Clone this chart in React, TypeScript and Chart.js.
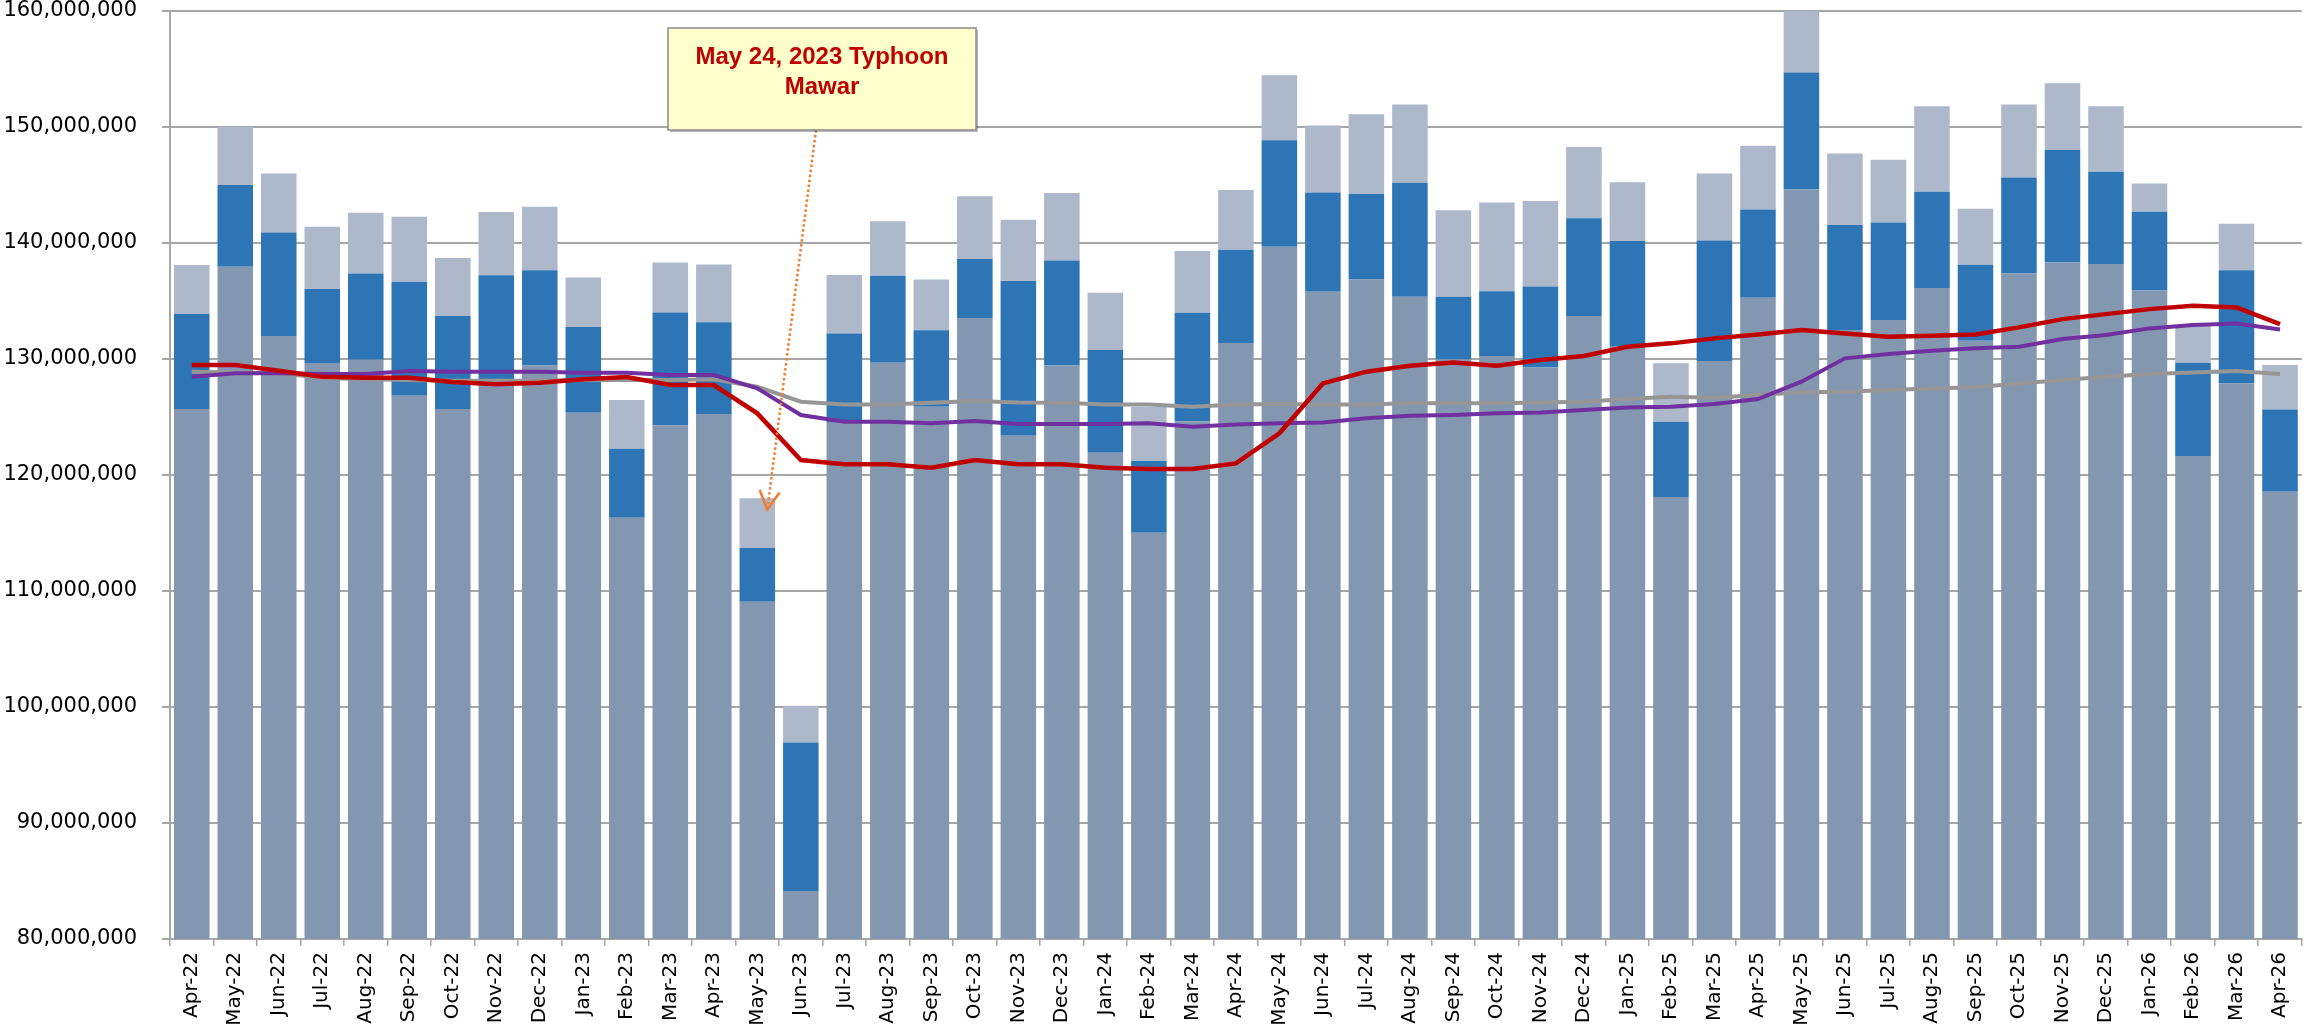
import { useEffect, useRef } from "react";
import { Chart, registerables } from "chart.js";

Chart.register(...registerables);

const categories = [
  "Apr-22", "May-22", "Jun-22", "Jul-22", "Aug-22", "Sep-22", "Oct-22", "Nov-22", "Dec-22",
  "Jan-23", "Feb-23", "Mar-23", "Apr-23", "May-23", "Jun-23", "Jul-23", "Aug-23", "Sep-23",
  "Oct-23", "Nov-23", "Dec-23", "Jan-24", "Feb-24", "Mar-24", "Apr-24", "May-24", "Jun-24",
  "Jul-24", "Aug-24", "Sep-24", "Oct-24", "Nov-24", "Dec-24", "Jan-25", "Feb-25", "Mar-25",
  "Apr-25", "May-25", "Jun-25", "Jul-25", "Aug-25", "Sep-25", "Oct-25", "Nov-25", "Dec-25",
  "Jan-26", "Feb-26", "Mar-26", "Apr-26",
];

// bottom segment (grey-blue)
const baseValues = [
  125.66e6, 137.92e6, 131.95e6, 129.62e6, 129.91e6, 126.8e6, 125.66e6, 127.8e6, 129.42e6,
  125.35e6, 116.3e6, 124.25e6, 125.23e6, 109.06e6, 84.14e6, 124.49e6, 129.65e6, 125.86e6,
  133.5e6, 123.37e6, 129.42e6, 121.9e6, 115.0e6, 124.6e6, 131.35e6, 139.64e6, 135.77e6,
  136.83e6, 135.34e6, 129.94e6, 130.23e6, 129.25e6, 133.67e6, 131.03e6, 118.08e6, 129.8e6,
  135.25e6, 144.58e6, 132.47e6, 133.33e6, 136.08e6, 131.55e6, 137.35e6, 138.29e6, 138.15e6,
  135.88e6, 121.61e6, 127.87e6, 118.54e6,
];

// middle segment (blue)
const midValues = [
  8.19e6, 7.04e6, 8.93e6, 6.38e6, 7.44e6, 9.83e6, 8.01e6, 9.38e6, 8.19e6,
  7.37e6, 5.95e6, 9.74e6, 7.9e6, 4.62e6, 12.79e6, 7.69e6, 7.5e6, 6.58e6,
  5.08e6, 13.32e6, 9.05e6, 8.84e6, 6.18e6, 9.36e6, 8.04e6, 9.19e6, 8.55e6,
  7.35e6, 9.82e6, 5.4e6, 5.57e6, 6.98e6, 8.44e6, 9.1e6, 6.49e6, 10.39e6,
  7.61e6, 10.08e6, 9.04e6, 8.41e6, 8.3e6, 6.54e6, 8.27e6, 9.68e6, 7.96e6,
  6.79e6, 8.05e6, 9.74e6, 7.09e6,
];

// top segment (light grey-blue)
const topValues = [
  4.22e6, 5.02e6, 5.08e6, 5.37e6, 5.22e6, 5.6e6, 5.0e6, 5.45e6, 5.48e6,
  4.28e6, 4.19e6, 4.3e6, 4.99e6, 4.29e6, 3.17e6, 5.02e6, 4.7e6, 4.39e6,
  5.42e6, 5.28e6, 5.8e6, 4.94e6, 4.68e6, 5.31e6, 5.14e6, 5.6e6, 5.77e6,
  6.89e6, 6.74e6, 7.46e6, 7.66e6, 7.35e6, 6.12e6, 5.08e6, 5.03e6, 5.77e6,
  5.48e6, 5.34e6, 6.17e6, 5.39e6, 7.38e6, 4.83e6, 6.28e6, 5.77e6, 5.65e6,
  2.43e6, 3.15e6, 4.02e6, 3.82e6,
];

const redLine = [
  129.45e6, 129.45e6, 128.96e6, 128.45e6, 128.36e6, 128.36e6, 128.0e6, 127.8e6, 127.93e6,
  128.22e6, 128.42e6, 127.73e6, 127.73e6, 125.29e6, 121.27e6, 120.9e6, 120.9e6, 120.61e6,
  121.27e6, 120.9e6, 120.9e6, 120.61e6, 120.5e6, 120.5e6, 120.98e6, 123.57e6, 127.87e6,
  128.88e6, 129.39e6, 129.68e6, 129.39e6, 129.88e6, 130.23e6, 131.03e6, 131.32e6, 131.75e6,
  132.09e6, 132.47e6, 132.18e6, 131.89e6, 131.98e6, 132.09e6, 132.7e6, 133.41e6, 133.84e6,
  134.27e6, 134.56e6, 134.42e6, 132.98e6,
];

const purpleLine = [
  128.45e6, 128.74e6, 128.74e6, 128.68e6, 128.68e6, 128.94e6, 128.88e6, 128.88e6, 128.88e6,
  128.79e6, 128.79e6, 128.59e6, 128.59e6, 127.44e6, 125.15e6, 124.57e6, 124.57e6, 124.43e6,
  124.63e6, 124.37e6, 124.37e6, 124.37e6, 124.43e6, 124.14e6, 124.34e6, 124.43e6, 124.51e6,
  124.86e6, 125.09e6, 125.15e6, 125.29e6, 125.37e6, 125.58e6, 125.8e6, 125.86e6, 126.09e6,
  126.52e6, 128.02e6, 130.03e6, 130.4e6, 130.69e6, 130.89e6, 131.03e6, 131.69e6, 132.04e6,
  132.61e6, 132.9e6, 133.04e6, 132.52e6,
];

const greyLine = [
  128.88e6, 128.82e6, 128.74e6, 128.36e6, 128.22e6, 128.16e6, 128.1e6, 128.1e6, 128.1e6,
  128.16e6, 128.16e6, 128.16e6, 128.22e6, 127.59e6, 126.29e6, 126.06e6, 126.06e6, 126.2e6,
  126.35e6, 126.23e6, 126.2e6, 126.06e6, 126.06e6, 125.86e6, 126.06e6, 126.09e6, 126.06e6,
  126.06e6, 126.15e6, 126.15e6, 126.15e6, 126.23e6, 126.29e6, 126.52e6, 126.72e6, 126.64e6,
  126.87e6, 127.1e6, 127.15e6, 127.3e6, 127.44e6, 127.53e6, 127.87e6, 128.16e6, 128.45e6,
  128.68e6, 128.82e6, 128.94e6, 128.68e6,
];

const yMin = 80e6;
const yMax = 160e6;
const yStep = 10e6;

const annotationLines = ["May 24, 2023 Typhoon", "Mawar"];
const annotationCategory = "May-23";
const annotationValue = 117.0e6;

function formatThousands(v: number): string {
  const s = Math.round(v).toString();
  return s.replace(/\B(?=(\d{3})+(?!\d))/g, ",");
}

const annotationPlugin = {
  id: "typhoonNote",
  afterDraw(chart: any) {
    const ctx = chart.ctx as CanvasRenderingContext2D;
    const xs = chart.scales.x;
    const ys = chart.scales.y;
    const idx = categories.indexOf(annotationCategory);
    const tipX = xs.getPixelForValue(idx) + 10;
    const tipY = ys.getPixelForValue(annotationValue);
    const box = { l: 668, t: 28, w: 308, h: 102 };
    const sx = 816;
    const sy = box.t + box.h;
    ctx.save();
    // dotted arrow
    ctx.strokeStyle = "#ED7D31";
    ctx.lineWidth = 2.5;
    ctx.setLineDash([2.5, 2.5]);
    ctx.beginPath();
    ctx.moveTo(sx, sy);
    ctx.lineTo(tipX, tipY);
    ctx.stroke();
    ctx.setLineDash([]);
    const ang = Math.atan2(tipY - sy, tipX - sx);
    const len = 21;
    const spread = 0.5;
    ctx.lineWidth = 2.5;
    ctx.beginPath();
    ctx.moveTo(tipX - len * Math.cos(ang - spread), tipY - len * Math.sin(ang - spread));
    ctx.lineTo(tipX, tipY);
    ctx.lineTo(tipX - len * Math.cos(ang + spread), tipY - len * Math.sin(ang + spread));
    ctx.stroke();
    // box
    ctx.fillStyle = "rgba(0,0,0,0.28)";
    ctx.fillRect(box.l + 2, box.t + 2, box.w, box.h);
    ctx.fillStyle = "#FFFFCC";
    ctx.fillRect(box.l, box.t, box.w, box.h);
    ctx.strokeStyle = "#8C8C8C";
    ctx.lineWidth = 1.5;
    ctx.strokeRect(box.l, box.t, box.w, box.h);
    ctx.fillStyle = "#C00000";
    ctx.font = 'bold 24px "Liberation Sans", Arial, sans-serif';
    ctx.textAlign = "center";
    ctx.textBaseline = "alphabetic";
    ctx.fillText(annotationLines[0], 822, 64);
    ctx.fillText(annotationLines[1], 822, 94);
    ctx.restore();
  },
};

export default function App() {
  const ref = useRef<HTMLCanvasElement>(null);

  useEffect(() => {
    document.body.style.margin = "0";
    const canvas = ref.current;
    if (!canvas) return;
    const gridColor = "#A6A6A6";
    const chart = new Chart(canvas, {
      type: "bar",
      data: {
        labels: categories,
        datasets: [
          {
            type: "bar",
            data: baseValues,
            backgroundColor: "#8497B0",
            stack: "bars",
            order: 4,
            categoryPercentage: 1,
            barPercentage: 0.817,
          },
          {
            type: "bar",
            data: midValues,
            backgroundColor: "#2E75B6",
            stack: "bars",
            order: 4,
            categoryPercentage: 1,
            barPercentage: 0.817,
          },
          {
            type: "bar",
            data: topValues,
            backgroundColor: "#ADB9CA",
            stack: "bars",
            order: 4,
            categoryPercentage: 1,
            barPercentage: 0.817,
          },
          {
            type: "line",
            data: greyLine,
            borderColor: "#969696",
            borderWidth: 4,
            pointRadius: 0,
            tension: 0,
            stack: "grey",
            order: 3,
          },
          {
            type: "line",
            data: purpleLine,
            borderColor: "#7030A0",
            borderWidth: 4,
            pointRadius: 0,
            tension: 0,
            stack: "purple",
            order: 2,
          },
          {
            type: "line",
            data: redLine,
            borderColor: "#C00000",
            borderWidth: 4.5,
            pointRadius: 0,
            tension: 0,
            stack: "red",
            order: 1,
          },
        ] as any,
      },
      options: {
        responsive: false,
        animation: false,
        devicePixelRatio: 1,
        layout: { padding: 0 },
        plugins: {
          legend: { display: false },
          tooltip: { enabled: false },
        },
        scales: {
          x: {
            offset: true,
            grid: {
              display: true,
              offset: true,
              drawOnChartArea: false,
              drawTicks: true,
              tickLength: 7,
              color: gridColor,
              lineWidth: 1.5,
            },
            border: { display: true, color: gridColor, width: 2 },
            ticks: {
              autoSkip: false,
              maxRotation: 90,
              minRotation: 90,
              padding: 6,
              color: "#000000",
              font: { family: '"DejaVu Sans", sans-serif', size: 20 },
            },
            afterFit: (s: any) => {
              s.height = 92;
            },
          },
          y: {
            stacked: true,
            min: yMin,
            max: yMax,
            grid: {
              color: gridColor,
              lineWidth: 2,
              tickLength: 8,
            },
            border: { display: true, color: gridColor, width: 2 },
            ticks: {
              stepSize: yStep,
              padding: 25,
              color: "#000000",
              font: { family: '"DejaVu Sans", sans-serif', size: 21, lineHeight: 1 },
              callback: (v: any) => formatThousands(Number(v)),
            },
            afterFit: (s: any) => {
              s.width = 170;
              s.paddingTop = 10.5;
              s.paddingBottom = 0;
            },
          },
        },
      } as any,
      plugins: [annotationPlugin],
    });
    return () => chart.destroy();
  }, []);

  return (
    <div style={{ width: 2310, height: 1031, position: "relative" }}>
      <canvas ref={ref} width={2310} height={1031} style={{ display: "block" }} />
    </div>
  );
}
